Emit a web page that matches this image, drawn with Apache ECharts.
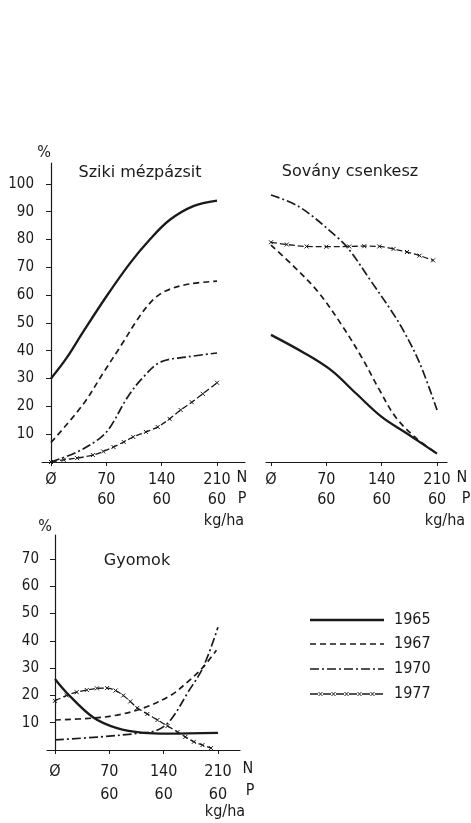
<!DOCTYPE html>
<html>
<head>
<meta charset="utf-8">
<script src="https://cdn.jsdelivr.net/npm/echarts@6/dist/echarts.min.js"></script>
<style>
html, body { margin: 0; padding: 0; background: #fff; }
#main { width: 471px; height: 823px; }
</style>
</head>
<body>
<div id="main"></div>
<script>
// N adag (kg/ha) a tengelyen, alatta a P adag
var nTicks = [0, 70, 140, 210];
var pTicks = ['', '60', '60', '60'];
var topYTicks = [10, 20, 30, 40, 50, 60, 70, 80, 90, 100];
var bottomYTicks = [10, 20, 30, 40, 50, 60, 70];
var years = ['1965', '1967', '1970', '1977'];

// Sziki mézpázsit  [N, %]
var sziki1965 = [[0, 30], [20, 37.5], [40, 46.5], [70, 59.5], [100, 71.5], [125, 80], [150, 87], [180, 92], [210, 94]];
var sziki1967 = [[0, 7], [40, 20.5], [66, 32], [90, 42.5], [110, 51.5], [128, 58], [145, 61.5], [175, 64], [210, 65]];
var sziki1970 = [[0, 0], [33, 3.6], [62, 8.6], [75, 12.6], [97, 23.4], [117, 30.6], [139, 36], [173, 37.8], [210, 39.2]];
var sziki1977 = [[0, 0], [16, 0.8], [33, 1.4], [53, 2.5], [66, 3.8], [79, 5.4], [92, 7.2], [104, 9], [120, 10.8], [135, 12.6], [150, 15.5], [164, 18.7], [178, 21.5], [192, 24.5], [210, 28.5]];

// Sovány csenkesz
var sovany1965 = [[0, 45.7], [42, 39.2], [76, 33], [107, 24.8], [140, 16.2], [171, 10.4], [210, 3]];
var sovany1967 = [[0, 78], [30, 70], [60, 61], [90, 49], [115, 37.5], [137, 26], [158, 16], [184, 8.5], [210, 3]];
var sovany1970 = [[0, 96], [36, 91.7], [83, 81], [99, 76.3], [128, 64.4], [154, 53.6], [167, 47.5], [188, 35.6], [210, 18.7]];
var sovany1977 = [[0, 79], [20, 78.2], [45, 77.5], [70, 77.4], [99, 77.5], [118, 77.6], [137, 77.5], [155, 76.6], [172, 75.5], [188, 74.2], [205, 72.5]];

// Gyomok
var gyom1965 = [[0, 26], [15, 21], [49, 12], [80, 8], [114, 6.3], [145, 6], [210, 6.3]];
var gyom1967 = [[0, 11], [49, 11.7], [80, 12.8], [114, 15.4], [149, 20], [171, 25], [191, 30.4], [208, 36.6]];
var gyom1970 = [[0, 3.7], [58, 4.8], [110, 6.2], [132, 7.3], [149, 11], [171, 21], [191, 30.4], [210, 45]];
var gyom1977 = [[0, 18], [15, 20], [28, 21.2], [41, 22], [54, 22.6], [67, 22.7], [78, 21.8], [88, 20], [97, 17.8], [106, 15.4], [119, 13.2], [132, 11], [145, 8.8], [158, 6.6], [168, 4.8], [179, 3], [190, 1.8], [201, 0.7]];

var ink = '#1a1a1a';
var font = 'DejaVu Sans Condensed, DejaVu Sans, sans-serif';
var titleFont = '16px DejaVu Sans, sans-serif';

var lineStyles = {
    '1965': { type: 'solid', width: 2.3 },
    '1967': { type: [6, 4], width: 1.7 },
    '1970': { type: [9, 3, 2, 3], width: 1.7 },
    '1977': { type: [6, 3], width: 1.3 }
};

function makeSeries(name, data, idx) {
    var s = {
        name: name,
        type: 'line',
        xAxisIndex: idx,
        yAxisIndex: idx,
        data: data,
        smooth: 0.35,
        symbol: 'none',
        lineStyle: { color: ink, type: lineStyles[name].type, width: lineStyles[name].width },
        itemStyle: { color: ink },
        silent: true
    };
    if (name === '1977') {
        s.symbol = 'path://M0,0L10,10M10,0L0,10';
        s.symbolSize = 4;
        s.itemStyle = { color: 'none', borderColor: ink, borderWidth: 1 };
    }
    return s;
}

function xAxis(idx, min, max, margin, lh) {
    return {
        type: 'value', gridIndex: idx, min: min, max: max,
        splitLine: { show: false },
        axisLine: { show: true, onZero: false, lineStyle: { color: ink, width: 1.2 } },
        axisTick: { show: true, length: 4, customValues: nTicks, lineStyle: { color: ink } },
        axisLabel: {
            customValues: nTicks, margin: margin, color: ink, fontFamily: font, fontSize: 16, lineHeight: lh,
            formatter: function (v) {
                var i = nTicks.indexOf(v);
                return i === 0 ? 'Ø' : v + '\n' + pTicks[i];
            }
        }
    };
}

function yAxis(idx, max, ticks, show) {
    return {
        type: 'value', gridIndex: idx, min: 0, max: max, show: show,
        splitLine: { show: false },
        axisLine: { show: true, lineStyle: { color: ink, width: 1.2 } },
        axisTick: { show: true, length: 5, customValues: ticks, lineStyle: { color: ink } },
        axisLabel: { customValues: ticks, margin: 8, color: ink, fontFamily: font, fontSize: 15 }
    };
}

function label(text, x, y, f, align) {
    return {
        type: 'text', x: x, y: y, silent: true,
        style: { text: text, fill: ink, font: f || ('16px ' + font), align: align || 'center', verticalAlign: 'middle' }
    };
}

function seg(x1, y1, x2, y2, w, dash) {
    return {
        type: 'line', silent: true,
        shape: { x1: x1, y1: y1, x2: x2, y2: y2 },
        style: { stroke: ink, lineWidth: w, lineDash: dash || null }
    };
}

// jelmagyarázat: vonalminták a grafikonon kívül
var legendRows = [620, 644, 669, 694];
var legendX1 = 310, legendX2 = 384;
var legendGraphics = [];
years.forEach(function (y, i) {
    var st = lineStyles[y];
    var dash = y === '1977' ? [8, 5] : (st.type === 'solid' ? null : st.type);
    legendGraphics.push(seg(legendX1, legendRows[i], legendX2, legendRows[i], st.width, dash));
    legendGraphics.push(label(y, 394, legendRows[i], '16px ' + font, 'left'));
});
for (var cx = legendX1 + 10.5; cx < legendX2; cx += 13) {
    var cy = legendRows[3];
    legendGraphics.push(seg(cx - 2, cy - 2, cx + 2, cy + 2, 1));
    legendGraphics.push(seg(cx + 2, cy - 2, cx - 2, cy + 2, 1));
}

var chart = echarts.init(document.getElementById('main'));

var option = {
    backgroundColor: '#fff',
    animation: false,
    grid: [
        { left: 42, top: 163, width: 203, height: 299 },
        { left: 266, top: 163, width: 181, height: 299 },
        { left: 47, top: 535, width: 193, height: 215 }
    ],
    xAxis: [
        xAxis(0, -11.4, 245.4, 8, 20),
        xAxis(1, -6.3, 222.6, 8, 20),
        xAxis(2, -10.3, 238.4, 10, 23)
    ],
    yAxis: [
        yAxis(0, 107.5, topYTicks, true),
        yAxis(1, 107.5, topYTicks, false),
        yAxis(2, 78.8, bottomYTicks, true)
    ],
    series: [
        makeSeries('1965', sziki1965, 0),
        makeSeries('1967', sziki1967, 0),
        makeSeries('1970', sziki1970, 0),
        makeSeries('1977', sziki1977, 0),
        makeSeries('1965', sovany1965, 1),
        makeSeries('1967', sovany1967, 1),
        makeSeries('1970', sovany1970, 1),
        makeSeries('1977', sovany1977, 1),
        makeSeries('1965', gyom1965, 2),
        makeSeries('1967', gyom1967, 2),
        makeSeries('1970', gyom1970, 2),
        makeSeries('1977', gyom1977, 2)
    ],
    graphic: [
        label('%', 44, 153),
        label('Sziki mézpázsit', 140, 173, titleFont),
        label('Sovány csenkesz', 350, 172, titleFont),
        label('N', 242, 478),
        label('P', 242, 499),
        label('kg/ha', 224, 521),
        label('N', 462, 478),
        label('P', 466, 499),
        label('kg/ha', 445, 521),
        label('%', 45, 527),
        label('Gyomok', 137, 561, titleFont),
        label('N', 248, 769),
        label('P', 250, 791),
        label('kg/ha', 225, 812)
    ].concat(legendGraphics)
};

chart.setOption(option);
</script>
</body>
</html>
